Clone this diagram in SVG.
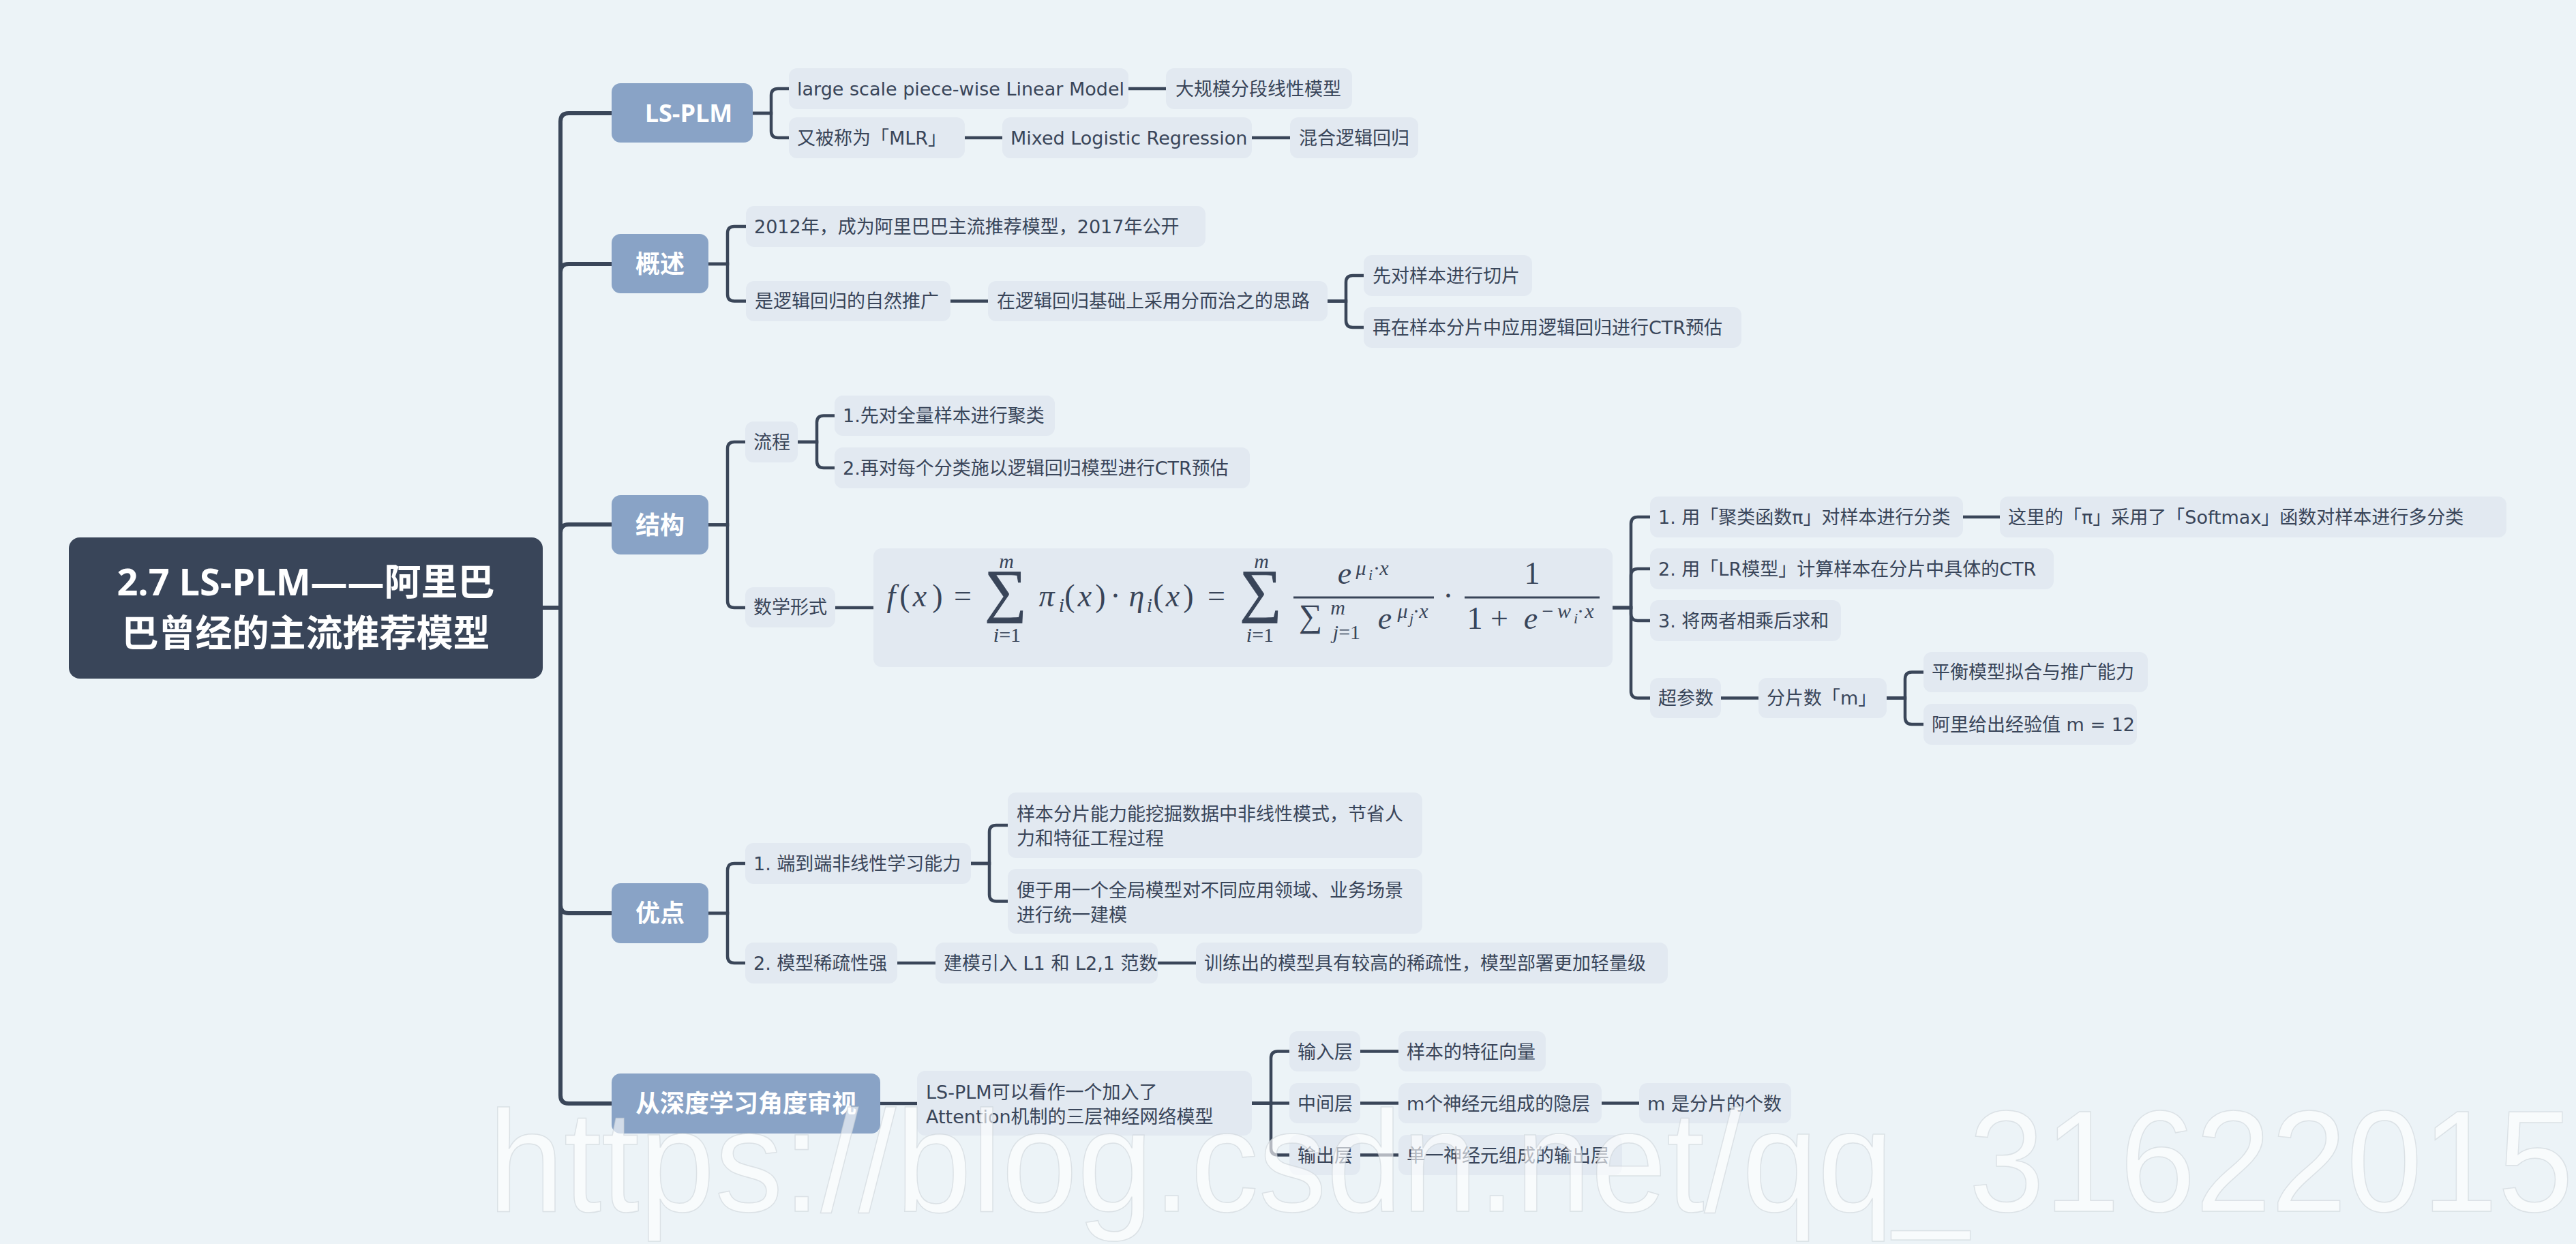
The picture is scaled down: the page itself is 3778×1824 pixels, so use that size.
<svg xmlns="http://www.w3.org/2000/svg" width="3778" height="1824" viewBox="0 0 3778 1824">
<style>
.nd{fill:#E2E9F1}
.br{fill:#89A3C6}
.rt{fill:#394559}
.t{font-family:"DejaVu Sans","Noto Sans CJK SC",sans-serif;font-size:27px;fill:#394559}
.bt{font-family:"Open Sans","Noto Sans CJK SC",sans-serif;font-weight:bold;font-size:36px;fill:#ffffff;text-anchor:middle}
.rtx{font-family:"Open Sans","Noto Sans CJK SC",sans-serif;font-weight:bold;font-size:54px;fill:#ffffff;text-anchor:middle}
.ln{stroke:#3A4659;stroke-width:4.5;fill:none}
.tr{stroke-width:6}
.fm{font-family:"Liberation Serif","DejaVu Serif",serif;fill:#394559;text-anchor:middle}
.i{font-style:italic}
.s{font-size:30px}
.ss{font-size:22px}
.sg{stroke:#394559;stroke-width:1.2}
.wm{font-family:"Liberation Sans",Arial,sans-serif;font-size:212px;fill:#ffffff;fill-opacity:0.62;stroke:#C9D0D6;stroke-opacity:0.55;stroke-width:1.5}
</style>
<rect x="0" y="0" width="3778" height="1824" fill="#ECF3F7"/>

<g id="connectors">
<path class="ln tr" d="M796 891H822"/>
<path class="ln tr" d="M822 891V178Q822 166 834 166H897"/>
<path class="ln tr" d="M822 891V399Q822 387 834 387H897"/>
<path class="ln tr" d="M822 891V781Q822 769 834 769H897"/>
<path class="ln tr" d="M822 891V1327Q822 1339 834 1339H897"/>
<path class="ln tr" d="M822 891V1606Q822 1618 834 1618H897"/>

<path class="ln" d="M1104 166H1131V140Q1131 130 1141 130H1157"/>
<path class="ln" d="M1104 166H1131V192Q1131 202 1141 202H1157"/>
<path class="ln" d="M1655 130H1710"/>
<path class="ln" d="M1415 202H1470"/>
<path class="ln" d="M1836 202H1892"/>

<path class="ln" d="M1039 387H1067V342Q1067 332 1077 332H1094"/>
<path class="ln" d="M1039 387H1067V431.5Q1067 441.5 1077 441.5H1094"/>
<path class="ln" d="M1394 441.5H1449"/>
<path class="ln" d="M1947 441.5H1974V414Q1974 404 1984 404H2000"/>
<path class="ln" d="M1947 441.5H1974V470Q1974 480 1984 480H2000"/>

<path class="ln" d="M1039 769.5H1067V658Q1067 648 1077 648H1093"/>
<path class="ln" d="M1039 769.5H1067V881Q1067 891 1077 891H1093"/>
<path class="ln" d="M1170 648H1198V619.5Q1198 609.5 1208 609.5H1224"/>
<path class="ln" d="M1170 648H1198V676Q1198 686 1208 686H1224"/>
<path class="ln" d="M1225 891H1281"/>
<path class="ln" d="M2365 891H2392V768Q2392 758 2402 758H2420"/>
<path class="ln" d="M2365 891H2392V844Q2392 834 2402 834H2420"/>
<path class="ln" d="M2365 891H2392V900Q2392 910 2402 910H2420"/>
<path class="ln" d="M2365 891H2392V1013.5Q2392 1023.5 2402 1023.5H2420"/>
<path class="ln" d="M2879 758H2933"/>
<path class="ln" d="M2524 1023.5H2579"/>
<path class="ln" d="M2767 1023.5H2794V995.5Q2794 985.5 2804 985.5H2821"/>
<path class="ln" d="M2767 1023.5H2794V1052Q2794 1062 2804 1062H2821"/>

<path class="ln" d="M1039 1339H1067V1276Q1067 1266 1077 1266H1093"/>
<path class="ln" d="M1039 1339H1067V1402Q1067 1412 1077 1412H1093"/>
<path class="ln" d="M1424 1266H1451V1220Q1451 1210 1461 1210H1478"/>
<path class="ln" d="M1424 1266H1451V1311.5Q1451 1321.5 1461 1321.5H1478"/>
<path class="ln" d="M1316 1412H1372"/>
<path class="ln" d="M1698 1412H1754"/>

<path class="ln" d="M1291 1618H1345"/>
<path class="ln" d="M1836 1617.5H1864V1551.5Q1864 1541.5 1874 1541.5H1891"/>
<path class="ln" d="M1836 1617.5H1891"/>
<path class="ln" d="M1836 1617.5H1864V1683.5Q1864 1693.5 1874 1693.5H1891"/>
<path class="ln" d="M1995 1541.5H2051"/>
<path class="ln" d="M1995 1617.5H2051"/>
<path class="ln" d="M2349 1617.5H2404"/>
<path class="ln" d="M1995 1693.5H2051"/>
</g>

<g id="root">
<rect class="rt" x="101" y="788" width="695" height="207" rx="16"/>
<text class="rtx" x="448.5" y="873">2.7 LS-PLM——阿里巴</text>
<text class="rtx" x="448.5" y="948">巴曾经的主流推荐模型</text>
</g>

<g id="b-lsplm"><rect class="br" x="897" y="122" width="207" height="87" rx="13"/><text class="bt" x="1010" y="179">LS-PLM</text></g>
<g id="b-gaishu"><rect class="br" x="897" y="343" width="142" height="87" rx="13"/><text class="bt" x="968" y="400">概述</text></g>
<g id="b-jiegou"><rect class="br" x="897" y="726" width="142" height="87" rx="13"/><text class="bt" x="968" y="783">结构</text></g>
<g id="b-youdian"><rect class="br" x="897" y="1295" width="142" height="88" rx="13"/><text class="bt" x="968" y="1352">优点</text></g>
<g id="b-shendu"><rect class="br" x="897" y="1574" width="394" height="88" rx="13"/><text class="bt" x="1094" y="1631">从深度学习角度审视</text></g>

<g id="n-lsplm-1"><rect class="nd" x="1157" y="100" width="498" height="60" rx="12"/><text class="t" x="1169" y="140">large scale piece-wise Linear Model</text></g>
<g id="n-lsplm-1a"><rect class="nd" x="1710" y="100" width="273" height="60" rx="12"/><text class="t" x="1724" y="140">大规模分段线性模型</text></g>
<g id="n-lsplm-2"><rect class="nd" x="1157" y="172" width="258" height="60" rx="12"/><text class="t" x="1169" y="212">又被称为「MLR」</text></g>
<g id="n-lsplm-2a"><rect class="nd" x="1470" y="172" width="366" height="60" rx="12"/><text class="t" x="1482" y="212">Mixed Logistic Regression</text></g>
<g id="n-lsplm-2b"><rect class="nd" x="1892" y="172" width="188" height="60" rx="12"/><text class="t" x="1905" y="212">混合逻辑回归</text></g>

<g id="n-gs-1"><rect class="nd" x="1094" y="302" width="674" height="60" rx="12"/><text class="t" x="1106" y="342">2012年，成为阿里巴巴主流推荐模型，2017年公开</text></g>
<g id="n-gs-2"><rect class="nd" x="1094" y="412" width="300" height="59" rx="12"/><text class="t" x="1107" y="451">是逻辑回归的自然推广</text></g>
<g id="n-gs-2a"><rect class="nd" x="1449" y="412" width="498" height="59" rx="12"/><text class="t" x="1462" y="451">在逻辑回归基础上采用分而治之的思路</text></g>
<g id="n-gs-2a1"><rect class="nd" x="2000" y="374" width="247" height="60" rx="12"/><text class="t" x="2013" y="414">先对样本进行切片</text></g>
<g id="n-gs-2a2"><rect class="nd" x="2000" y="450" width="554" height="60" rx="12"/><text class="t" x="2013" y="490">再在样本分片中应用逻辑回归进行CTR预估</text></g>

<g id="n-lc"><rect class="nd" x="1093" y="618" width="77" height="60" rx="12"/><text class="t" x="1105" y="658">流程</text></g>
<g id="n-lc-1"><rect class="nd" x="1224" y="580" width="323" height="59" rx="12"/><text class="t" x="1236" y="619">1.先对全量样本进行聚类</text></g>
<g id="n-lc-2"><rect class="nd" x="1224" y="656" width="609" height="60" rx="12"/><text class="t" x="1236" y="696">2.再对每个分类施以逻辑回归模型进行CTR预估</text></g>
<g id="n-sx"><rect class="nd" x="1093" y="861" width="132" height="59" rx="12"/><text class="t" x="1105" y="900">数学形式</text></g>

<g id="n-formula">
<rect class="nd" x="1281" y="804" width="1084" height="174" rx="12"/>
<g class="fm" font-size="46">
<text class="i" x="1307" y="889">f</text>
<text x="1327" y="889">(</text>
<text class="i" x="1349" y="889">x</text>
<text x="1375" y="889">)</text>
<text x="1412" y="889">=</text>
<text class="sg" x="1475" y="895" font-size="86">∑</text>
<text class="i s" x="1476" y="833">m</text>
<text class="s" x="1477" y="941"><tspan class="i">i</tspan>=1</text>
<text class="i" x="1535" y="889">π</text>
<text class="i s" x="1557" y="897">i</text>
<text x="1569" y="889">(</text>
<text class="i" x="1591" y="889">x</text>
<text x="1614" y="889">)</text>
<text x="1636" y="889">·</text>
<text class="i" x="1667" y="889">η</text>
<text class="i s" x="1686" y="897">i</text>
<text x="1699" y="889">(</text>
<text class="i" x="1720" y="889">x</text>
<text x="1743" y="889">)</text>
<text x="1784" y="889">=</text>
<text class="sg" x="1849" y="895" font-size="86">∑</text>
<text class="i s" x="1850" y="833">m</text>
<text class="s" x="1848" y="941"><tspan class="i">i</tspan>=1</text>
<rect x="1897" y="874.5" width="206" height="3" fill="#394559"/>
<text class="i" x="1972" y="856">e</text>
<text class="i s" x="1996" y="843">μ</text>
<text class="i ss" x="2010" y="850">i</text>
<text class="s" x="2019" y="843">·</text>
<text class="i s" x="2030" y="843">x</text>
<text x="1922" y="919" font-size="48">∑</text>
<text class="i s" x="1962" y="901">m</text>
<text class="s" x="1975" y="937"><tspan class="i">j</tspan>=1</text>
<text class="i" x="2031" y="922">e</text>
<text class="i s" x="2057" y="906">μ</text>
<text class="i ss" x="2070" y="914">j</text>
<text class="s" x="2077" y="906">·</text>
<text class="i s" x="2088" y="906">x</text>
<text x="2124" y="889">·</text>
<rect x="2148" y="874.5" width="198" height="3" fill="#394559"/>
<text x="2247" y="856">1</text>
<text x="2163" y="922">1</text>
<text x="2199" y="922">+</text>
<text class="i" x="2245" y="922">e</text>
<text class="s" x="2270" y="906">−</text>
<text class="i s" x="2294" y="906">w</text>
<text class="i ss" x="2311" y="914">i</text>
<text class="s" x="2318" y="906">·</text>
<text class="i s" x="2331" y="906">x</text>
</g>
</g>

<g id="n-f1"><rect class="nd" x="2420" y="728" width="459" height="60" rx="12"/><text class="t" x="2432" y="768">1. 用「聚类函数π」对样本进行分类</text></g>
<g id="n-f1a"><rect class="nd" x="2933" y="728" width="743" height="60" rx="12"/><text class="t" x="2945" y="768">这里的「π」采用了「Softmax」函数对样本进行多分类</text></g>
<g id="n-f2"><rect class="nd" x="2420" y="804" width="592" height="60" rx="12"/><text class="t" x="2432" y="844">2. 用「LR模型」计算样本在分片中具体的CTR</text></g>
<g id="n-f3"><rect class="nd" x="2420" y="880" width="280" height="60" rx="12"/><text class="t" x="2432" y="920">3. 将两者相乘后求和</text></g>
<g id="n-f4"><rect class="nd" x="2420" y="994" width="104" height="59" rx="12"/><text class="t" x="2432" y="1033">超参数</text></g>
<g id="n-f4a"><rect class="nd" x="2579" y="994" width="188" height="59" rx="12"/><text class="t" x="2591" y="1033">分片数「m」</text></g>
<g id="n-f4a1"><rect class="nd" x="2821" y="956" width="329" height="59" rx="12"/><text class="t" x="2833" y="995">平衡模型拟合与推广能力</text></g>
<g id="n-f4a2"><rect class="nd" x="2821" y="1032" width="313" height="60" rx="12"/><text class="t" x="2833" y="1072">阿里给出经验值 m = 12</text></g>

<g id="n-yd-1"><rect class="nd" x="1093" y="1236" width="331" height="60" rx="12"/><text class="t" x="1105" y="1276">1. 端到端非线性学习能力</text></g>
<g id="n-yd-1a"><rect class="nd" x="1478" y="1162" width="608" height="96" rx="12"/><text class="t" x="1491" y="1203">样本分片能力能挖掘数据中非线性模式，节省人</text><text class="t" x="1491" y="1239">力和特征工程过程</text></g>
<g id="n-yd-1b"><rect class="nd" x="1478" y="1274" width="608" height="95" rx="12"/><text class="t" x="1491" y="1315">便于用一个全局模型对不同应用领域、业务场景</text><text class="t" x="1491" y="1351">进行统一建模</text></g>
<g id="n-yd-2"><rect class="nd" x="1093" y="1382" width="223" height="60" rx="12"/><text class="t" x="1105" y="1422">2. 模型稀疏性强</text></g>
<g id="n-yd-2a"><rect class="nd" x="1372" y="1382" width="326" height="60" rx="12"/><text class="t" x="1384" y="1422">建模引入 L1 和 L2,1 范数</text></g>
<g id="n-yd-2b"><rect class="nd" x="1754" y="1382" width="692" height="60" rx="12"/><text class="t" x="1766" y="1422">训练出的模型具有较高的稀疏性，模型部署更加轻量级</text></g>

<g id="n-sd-1"><rect class="nd" x="1345" y="1570" width="491" height="95" rx="12"/><text class="t" x="1358" y="1611">LS-PLM可以看作一个加入了</text><text class="t" x="1358" y="1647">Attention机制的三层神经网络模型</text></g>
<g id="n-sd-in"><rect class="nd" x="1891" y="1512" width="104" height="59" rx="12"/><text class="t" x="1903" y="1551.5">输入层</text></g>
<g id="n-sd-in-a"><rect class="nd" x="2051" y="1512" width="216" height="59" rx="12"/><text class="t" x="2063" y="1551.5">样本的特征向量</text></g>
<g id="n-sd-mid"><rect class="nd" x="1891" y="1588" width="104" height="59" rx="12"/><text class="t" x="1903" y="1627.5">中间层</text></g>
<g id="n-sd-mid-a"><rect class="nd" x="2051" y="1588" width="298" height="59" rx="12"/><text class="t" x="2063" y="1627.5">m个神经元组成的隐层</text></g>
<g id="n-sd-mid-b"><rect class="nd" x="2404" y="1588" width="223" height="59" rx="12"/><text class="t" x="2416" y="1627.5">m 是分片的个数</text></g>
<g id="n-sd-out"><rect class="nd" x="1891" y="1664" width="104" height="59" rx="12"/><text class="t" x="1903" y="1703.5">输出层</text></g>
<g id="n-sd-out-a"><rect class="nd" x="2051" y="1664" width="328" height="59" rx="12"/><text class="t" x="2063" y="1703.5">单一神经元组成的输出层</text></g>

<text class="wm" x="716" y="1776" textLength="3058" lengthAdjust="spacingAndGlyphs">https://blog.csdn.net/qq_31622015</text>
</svg>
